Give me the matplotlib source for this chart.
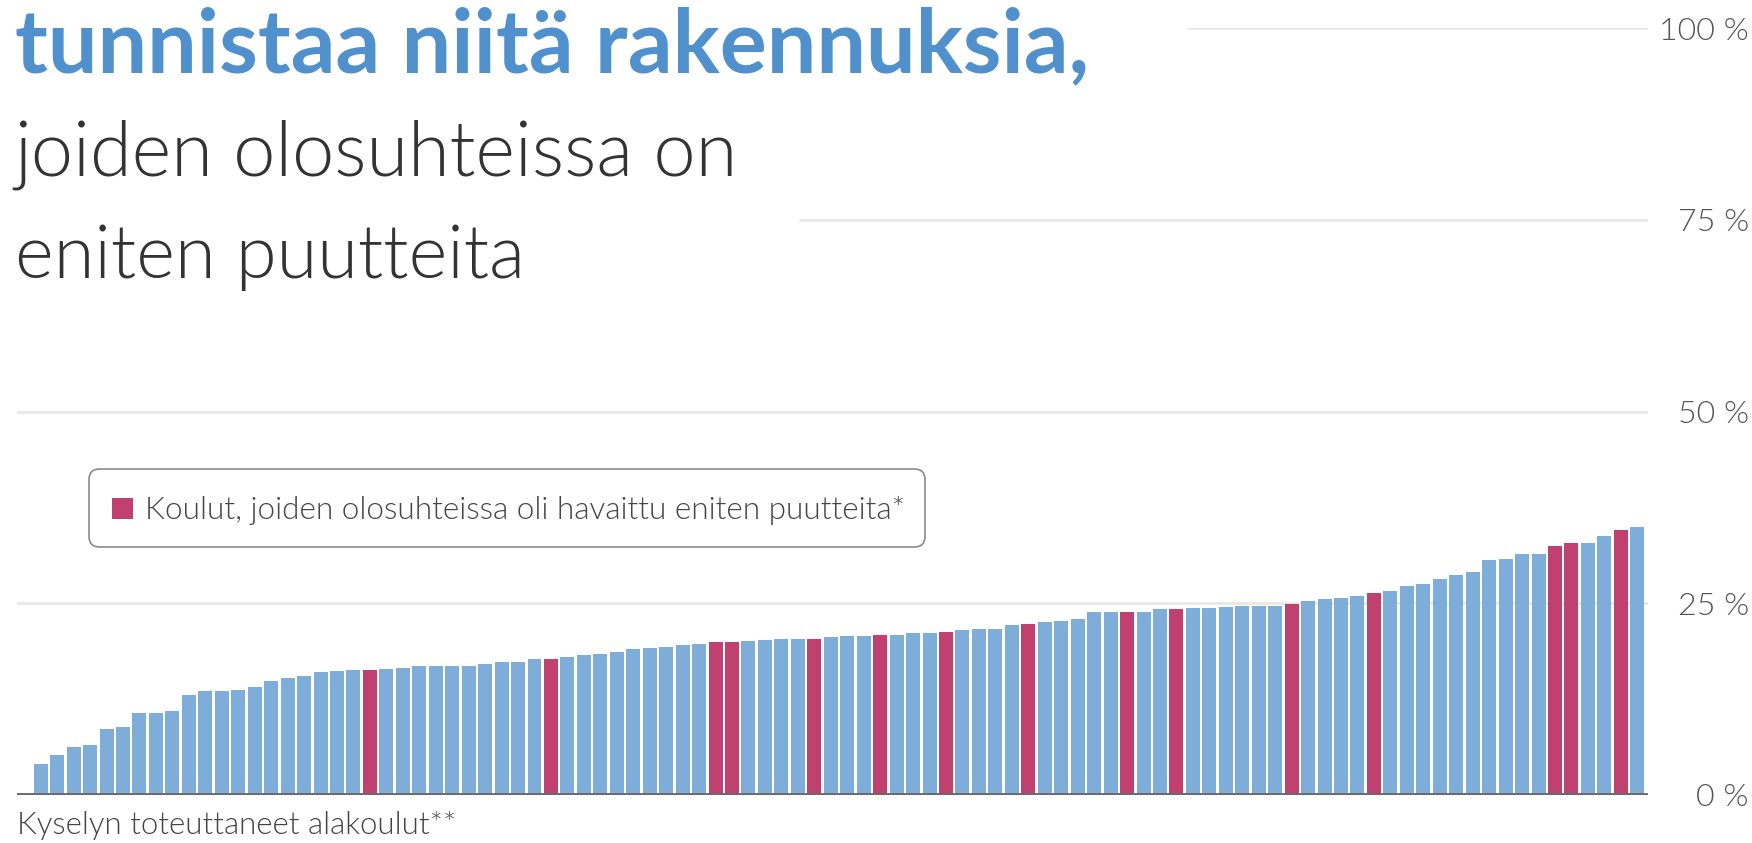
import matplotlib
matplotlib.use("Agg")
import matplotlib.pyplot as plt
from matplotlib import font_manager as fm
from matplotlib.font_manager import FontProperties
from matplotlib.patches import FancyBboxPatch, Rectangle
import numpy as np

# ---------------- data ----------------
shares = [4.1, 5.2, 6.3, 6.5, 8.6, 8.9, 10.7, 10.7, 11.0, 13.0,
          13.5, 13.5, 13.7, 14.1, 14.9, 15.2, 15.5, 16.0, 16.2, 16.3,
          16.3, 16.4, 16.5, 16.8, 16.8, 16.8, 16.8, 17.1, 17.3, 17.4,
          17.7, 17.7, 18.0, 18.2, 18.4, 18.7, 19.0, 19.2, 19.3, 19.6,
          19.7, 19.9, 19.9, 20.1, 20.2, 20.3, 20.3, 20.4, 20.6, 20.7,
          20.7, 20.8, 20.8, 21.1, 21.1, 21.3, 21.5, 21.6, 21.7, 22.2,
          22.3, 22.5, 22.7, 22.9, 23.8, 23.9, 23.9, 23.9, 24.2, 24.2,
          24.4, 24.4, 24.5, 24.7, 24.7, 24.7, 24.9, 25.3, 25.6, 25.7,
          26.0, 26.4, 26.6, 27.3, 27.5, 28.2, 28.7, 29.1, 30.7, 30.8,
          31.4, 31.4, 32.4, 32.9, 32.9, 33.8, 34.5, 35.0]
highlighted = [20, 31, 41, 42, 47, 51, 55, 60, 66, 69, 76, 81, 92, 93, 96]
y_ticks = [0, 25, 50, 75, 100]
y_tick_labels = ["0 %", "25 %", "50 %", "75 %", "100 %"]
title_bold = "tunnistaa niitä rakennuksia,"
title_lines = ["joiden olosuhteissa on", "eniten puutteita"]
legend_label = "Koulut, joiden olosuhteissa oli havaittu eniten puutteita*"
x_label = "Kyselyn toteuttaneet alakoulut**"

# ---------------- style ----------------
BLUE = "#7eadd9"
RED = "#c0406f"
TITLE_BLUE = "#5091cd"
W, H = 1752, 843

WMAP = {"ultralight": 200, "light": 300, "normal": 400, "regular": 400,
        "book": 400, "medium": 500, "semibold": 600, "demibold": 600,
        "bold": 700, "heavy": 800, "extra bold": 800, "black": 900}


def has_weight(fam, wanted):
    for e in fm.fontManager.ttflist:
        if e.name == fam and e.style == "normal":
            w = e.weight
            if isinstance(w, str):
                w = WMAP.get(w.lower(), 400)
            if w == wanted:
                return True
    return False


def pick(prefs, fallback, fallback_weight):
    for fam, wanted in prefs:
        if has_weight(fam, wanted):
            return FontProperties(family=fam, weight=wanted)
    return FontProperties(family=fallback, weight=fallback_weight)


light_prefs = [("Source Sans 3", 300), ("Source Sans Pro", 300), ("Lato", 300),
               ("Roboto", 300), ("Open Sans", 300), ("Noto Sans", 300)]
bold_prefs = [("Source Sans 3", 700), ("Source Sans Pro", 700), ("Lato", 700)]
fp_light = pick(light_prefs, "Lato", "normal")
fp_bold = pick(bold_prefs, "Lato", "bold")

fig = plt.figure(figsize=(W / 100, H / 100), dpi=100)
fig.patch.set_facecolor("white")

# axes: x from 17 to 1648 px, y 0% at 795 px, 100% at 28 px
ax = fig.add_axes([17 / W, (H - 795) / H, (1648 - 17) / W, (795 - 28) / H])
x = np.arange(len(shares))
colors = [RED if i in highlighted else BLUE for i in x]
ax.bar(x, shares, width=0.85, color=colors, zorder=2, linewidth=0)
ax.set_xlim(-1.44, len(shares) - 0.35)
ax.set_ylim(0, 100)
for s in ax.spines.values():
    s.set_visible(False)
ax.set_xticks([])

# gridlines (partially hidden behind the title block)
grid_start = {25: 0.0, 50: 0.0, 75: 0.48, 100: 0.718}
for yv, x0 in grid_start.items():
    ax.axhline(yv, xmin=x0, xmax=1, color="#e6e6e6", lw=1.8, zorder=1)
ax.axhline(0, color="#6a6a6a", lw=2.8, zorder=3)

ax.yaxis.tick_right()
ax.set_yticks(y_ticks)
ax.set_yticklabels(y_tick_labels)
ax.tick_params(axis="y", length=0, pad=101 * 72 / 100, colors="#555555")

renderer = fig.canvas.get_renderer()


def fit(t, target_w):
    for _ in range(3):
        bb = t.get_window_extent(renderer=renderer)
        t.set_fontsize(t.get_fontsize() * target_w / bb.width)


def ftext(px, py, s, fp, color, target_w, **kw):
    t = fig.text(px / W, (H - py) / H, s, fontproperties=fp, color=color,
                 fontsize=40, va="baseline", ha="left", **kw)
    fit(t, target_w)
    return t


# y tick label size
probe = fig.text(0, 0, "100 %", fontproperties=fp_light, fontsize=20)
fit(probe, 90)
tick_size = probe.get_fontsize()
probe.remove()
for lab in ax.get_yticklabels():
    lab.set_fontproperties(fp_light)
    lab.set_fontsize(tick_size)
    lab.set_ha("right")
    lab.set_color("#555555")

# title block
ftext(15, 72, title_bold, fp_bold, TITLE_BLUE, 1089 - 15)
ftext(14, 175, title_lines[0], fp_light, "#333333", 737 - 14)
ftext(15, 278, title_lines[1], fp_light, "#333333", 525 - 15)

# x label
ftext(17, 834, x_label, fp_light, "#444444", 456 - 17)

# legend box
box = FancyBboxPatch(((89) / W, (H - 547) / H), (925 - 89) / W, (547 - 469) / H,
                     boxstyle="round,pad=0,rounding_size=0.006",
                     transform=fig.transFigure, facecolor="white",
                     edgecolor="#8a8a8a", lw=1.2, zorder=5,
                     mutation_aspect=W / H)
fig.patches.append(box)
sq = Rectangle((112 / W, (H - 519) / H), 21 / W, 21 / H, transform=fig.transFigure,
               facecolor=RED, edgecolor="none", zorder=6)
fig.patches.append(sq)
ftext(145, 519, legend_label, fp_light, "#444444", 907 - 145, zorder=7)

fig.savefig("out.png", dpi=100, facecolor="white")
